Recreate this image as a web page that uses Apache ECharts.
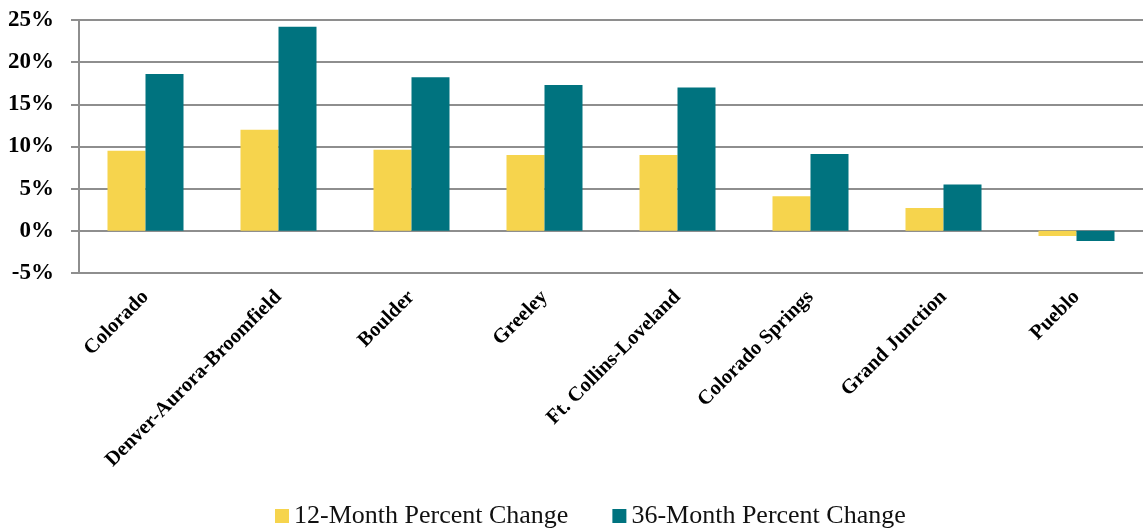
<!DOCTYPE html>
<html>
<head>
<meta charset="utf-8">
<script src="https://cdn.jsdelivr.net/npm/echarts@6/dist/echarts.min.js"></script>
<style>
    html, body { margin: 0; padding: 0; background: #fff; }
    #chart { width: 1143px; height: 529px; }
</style>
</head>
<body>
<div id="chart"></div>
<script>
// 数据
var categories = ["Colorado", "Denver-Aurora-Broomfield", "Boulder", "Greeley", "Ft. Collins-Loveland", "Colorado Springs", "Grand Junction", "Pueblo"];
var change12 = [9.5, 12.0, 9.6, 9.0, 9.0, 4.1, 2.7, -0.6];
var change36 = [18.6, 24.2, 18.2, 17.3, 17.0, 9.1, 5.5, -1.2];
var seriesNames = ["12-Month Percent Change", "36-Month Percent Change"];

(function() {
    var myChart = echarts.init(document.getElementById("chart"));
    var serif = "'Liberation Serif', 'DejaVu Serif', serif";
    var gray = "#8e8e8e";

    var option = {
        color: ['#F6D44D', '#00737F'],
        animation: false,
        grid: {
            left: 79,
            right: 0,
            top: 20,
            bottom: 256
        },
        legend: {
            bottom: -5,
            left: 270,
            itemWidth: 14,
            itemHeight: 14,
            itemGap: 44,
            icon: 'rect',
            textStyle: {
                fontFamily: serif,
                fontSize: 26,
                color: '#111'
            },
            data: seriesNames
        },
        xAxis: [{
            type: 'category',
            data: categories,
            axisLine: {
                onZero: true,
                lineStyle: { color: gray, width: 2 }
            },
            axisTick: {
                length: 5,
                lineStyle: { color: gray, width: 2 }
            },
            axisLabel: {
                interval: 0,
                rotate: 45,
                margin: 21,
                fontFamily: serif,
                fontWeight: 'bold',
                fontSize: 20.5,
                color: '#000'
            }
        }],
        yAxis: [{
            type: 'value',
            min: -5,
            max: 25,
            interval: 5,
            axisLabel: {
                formatter: '{value}%',
                fontFamily: serif,
                fontWeight: 'bold',
                fontSize: 23,
                color: '#000',
                margin: 25
            },
            axisLine: {
                show: true,
                lineStyle: { color: gray, width: 2 }
            },
            axisTick: {
                show: true,
                length: 8,
                lineStyle: { color: gray, width: 2 }
            },
            splitLine: {
                lineStyle: { color: gray, width: 2 }
            }
        }],
        series: [{
            name: seriesNames[0],
            type: 'bar',
            barWidth: 38,
            barGap: '0%',
            data: change12
        }, {
            name: seriesNames[1],
            type: 'bar',
            barWidth: 38,
            barGap: '0%',
            data: change36
        }]
    };

    myChart.setOption(option);

    window.addEventListener('resize', function() {
        myChart.resize();
    });
})();
</script>
</body>
</html>
